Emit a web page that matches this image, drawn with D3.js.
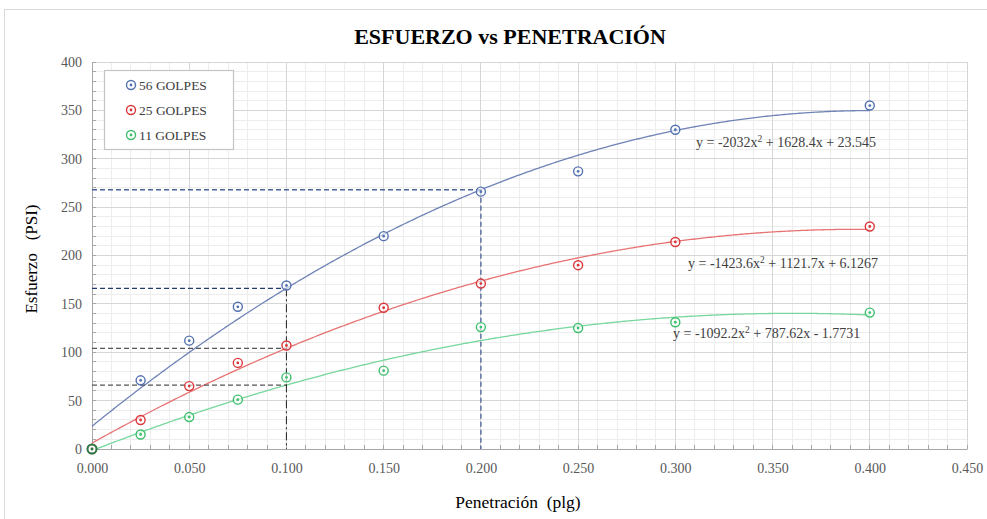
<!DOCTYPE html>
<html><head><meta charset="utf-8">
<script src="https://cdn.jsdelivr.net/npm/d3@7"></script>
<style>body{margin:0;background:#fff}svg{display:block}</style>
</head><body>
<script>
const penetracion = [0, 0.025, 0.05, 0.075, 0.1, 0.15, 0.2, 0.25, 0.3, 0.4];
const golpes56 = [0, 71, 112, 147, 169, 220, 266, 287, 330, 355];
const golpes25 = [0, 30, 65, 89, 107, 146, 171, 190, 214, 230];
const golpes11 = [0, 15, 33, 51, 74, 81, 126, 125, 131, 141];
const seriesNames = ["56 GOLPES", "25 GOLPES", "11 GOLPES"];
const seriesColors = ["#5572b0", "#d9373c", "#3dbf6c"];
const lineColors = ["#6f83b6", "#e87373", "#77d79d"];
// trendline coefficients [a, b, c] from the chart equations: y = a x^2 + b x + c
const coefA = [-2032, -1423.6, -1092.2];
const coefB = [1628.4, 1121.7, 787.62];
const coefC = [23.545, 6.1267, -1.7731];
const eqLabels = ["y = -2032x² + 1628.4x + 23.545", "y = -1423.6x² + 1121.7x + 6.1267", "y = -1092.2x² + 787.62x - 1.7731"];
const xTicks = [0, 0.05, 0.1, 0.15, 0.2, 0.25, 0.3, 0.35, 0.4, 0.45];
const yTicks = [0, 50, 100, 150, 200, 250, 300, 350, 400];

const W = 987, H = 519;
const svg = d3.select("body").append("svg").attr("width", W).attr("height", H);
const serif = "'Liberation Serif','Times New Roman',serif";

svg.append("rect").attr("x", 4.5).attr("y", 9.5).attr("width", W).attr("height", H)
  .attr("fill", "#fff").attr("stroke", "#d9d9d9");

const x = d3.scaleLinear().domain([0, 0.45]).range([92, 967]);
const y = d3.scaleLinear().domain([0, 400]).range([449, 62]);

// minor grid
const g = svg.append("g");
g.selectAll(".vx").data(d3.range(0, 46).map(i => i / 100)).join("line")
  .attr("x1", d => x(d)).attr("x2", d => x(d)).attr("y1", y(0)).attr("y2", y(400))
  .attr("stroke", "#ededed").attr("stroke-width", 1).attr("shape-rendering", "crispEdges");
g.selectAll(".hy").data(d3.range(0, 41).map(i => i * 10)).join("line")
  .attr("y1", d => y(d)).attr("y2", d => y(d)).attr("x1", x(0)).attr("x2", x(0.45))
  .attr("stroke", "#ededed").attr("stroke-width", 1).attr("shape-rendering", "crispEdges");
// major grid
g.selectAll(".mx").data(xTicks).join("line")
  .attr("x1", d => x(d)).attr("x2", d => x(d)).attr("y1", y(0)).attr("y2", y(400))
  .attr("stroke", "#d6d6d6").attr("shape-rendering", "crispEdges");
g.selectAll(".my").data(yTicks).join("line")
  .attr("y1", d => y(d)).attr("y2", d => y(d)).attr("x1", x(0)).attr("x2", x(0.45))
  .attr("stroke", "#d6d6d6").attr("shape-rendering", "crispEdges");

// axes
const xAxis = d3.axisBottom(x).tickValues(xTicks).tickFormat(d3.format(".3f")).tickSize(0).tickPadding(14);
const xa = svg.append("g").attr("transform", `translate(0,${y(0)})`).call(xAxis);
const yAxis = d3.axisLeft(y).tickValues(yTicks).tickSize(0).tickPadding(10);
const ya = svg.append("g").attr("transform", `translate(${x(0)},0)`).call(yAxis);
[xa, ya].forEach(a => {
  a.select(".domain").attr("stroke", "#a6a6a6");
  a.selectAll("text").attr("font-family", serif).attr("font-size", 14).attr("fill", "#595959");
});
// minor ticks inside
svg.append("g").selectAll("line").data(d3.range(0, 46).map(i => i / 100)).join("line")
  .attr("x1", d => x(d)).attr("x2", d => x(d)).attr("y1", y(0)).attr("y2", y(0) - 4)
  .attr("stroke", "#a6a6a6").attr("shape-rendering", "crispEdges");
svg.append("g").selectAll("line").data(d3.range(0, 41).map(i => i * 10)).join("line")
  .attr("y1", d => y(d)).attr("y2", d => y(d)).attr("x1", x(0)).attr("x2", x(0) + 4)
  .attr("stroke", "#a6a6a6").attr("shape-rendering", "crispEdges");

// trendlines
const poly = i => xv => coefA[i] * xv * xv + coefB[i] * xv + coefC[i];
const xs = d3.range(0, 401).map(k => k / 1000);
[0, 1, 2].forEach(i => {
  const f = poly(i);
  svg.append("path").datum(xs)
    .attr("d", d3.line().x(d => x(d)).y(d => y(f(d))))
    .attr("fill", "none").attr("stroke", lineColors[i]).attr("stroke-width", 1.3);
});

// reference dashed lines
const v1 = poly(0)(0.1), v2 = poly(1)(0.1), v3 = poly(2)(0.1), v4 = poly(0)(0.2);
const ref = svg.append("g");
ref.append("line").attr("x1", x(0)).attr("x2", x(0.1)).attr("y1", y(v1)).attr("y2", y(v1))
  .attr("stroke", "#1f3a6e").attr("stroke-width", 1.3).attr("stroke-dasharray", "5,3");
ref.append("line").attr("x1", x(0)).attr("x2", x(0.1)).attr("y1", y(v2)).attr("y2", y(v2))
  .attr("stroke", "#555").attr("stroke-width", 1.3).attr("stroke-dasharray", "5,3");
ref.append("line").attr("x1", x(0)).attr("x2", x(0.1)).attr("y1", y(v3)).attr("y2", y(v3))
  .attr("stroke", "#555").attr("stroke-width", 1.3).attr("stroke-dasharray", "5,3");
ref.append("line").attr("x1", x(0.1)).attr("x2", x(0.1)).attr("y1", y(v1)).attr("y2", y(0))
  .attr("stroke", "#333").attr("stroke-width", 1.1).attr("stroke-dasharray", "8,3,2,3");
ref.append("line").attr("x1", x(0)).attr("x2", x(0.2)).attr("y1", y(v4)).attr("y2", y(v4))
  .attr("stroke", "#4a6398").attr("stroke-width", 1.3).attr("stroke-dasharray", "5,3");
ref.append("line").attr("x1", x(0.2)).attr("x2", x(0.2)).attr("y1", y(v4)).attr("y2", y(0))
  .attr("stroke", "#4a6398").attr("stroke-width", 1.3).attr("stroke-dasharray", "5,3");

// markers
const allSeries = [golpes56, golpes25, golpes11];
function marker(sel, cx, cy, color, dark) {
  sel.append("circle").attr("cx", cx).attr("cy", cy).attr("r", 4.5)
    .attr("fill", "#fff").attr("fill-opacity", 0.6).attr("stroke", color).attr("stroke-width", dark ? 2 : 1.4);
  sel.append("circle").attr("cx", cx).attr("cy", cy).attr("r", 1.4).attr("fill", color);
}
allSeries.forEach((s, i) => {
  const gm = svg.append("g");
  s.forEach((v, k) => marker(gm, x(penetracion[k]), y(v), (k === 0 && i === 2) ? "#2f7a45" : seriesColors[i], k === 0 && i === 2));
});

// equations
const eqPos = [[696, 147], [688, 268], [673, 338]];
eqLabels.forEach((t, i) => {
  const parts = t.split("²");
  const tx = svg.append("text").attr("x", eqPos[i][0]).attr("y", eqPos[i][1])
    .attr("font-family", serif).attr("font-size", 14).attr("fill", "#404040");
  tx.append("tspan").text(parts[0]);
  tx.append("tspan").attr("dy", -5).attr("font-size", 9.5).text("2");
  tx.append("tspan").attr("dy", 5).text(parts[1]);
});

// legend
const lg = svg.append("g");
lg.append("rect").attr("x", 104.5).attr("y", 70.5).attr("width", 129).attr("height", 79)
  .attr("fill", "#fff").attr("stroke", "#c4c4c4").attr("stroke-width", 1.2);
seriesNames.forEach((n, i) => {
  const cy = 85 + i * 25;
  marker(lg, 131, cy, seriesColors[i]);
  lg.append("text").attr("x", 139).attr("y", cy + 4.5).attr("font-family", serif)
    .attr("font-size", 13.5).attr("fill", "#404040").text(n);
});

// titles
svg.append("text").attr("x", 510).attr("y", 44).attr("text-anchor", "middle")
  .attr("font-family", serif).attr("font-weight", "bold").attr("font-size", 22)
  .attr("fill", "#000").text("ESFUERZO vs PENETRACIÓN");
svg.append("text").attr("transform", "translate(37,259) rotate(-90)").attr("text-anchor", "middle")
  .attr("font-family", serif).attr("font-size", 17).attr("fill", "#000")
  .style("white-space", "pre").text("Esfuerzo   (PSI)");
svg.append("text").attr("x", 518).attr("y", 508).attr("text-anchor", "middle")
  .attr("font-family", serif).attr("font-size", 17.5).attr("fill", "#000")
  .style("white-space", "pre").text("Penetración  (plg)");
</script>
</body></html>
